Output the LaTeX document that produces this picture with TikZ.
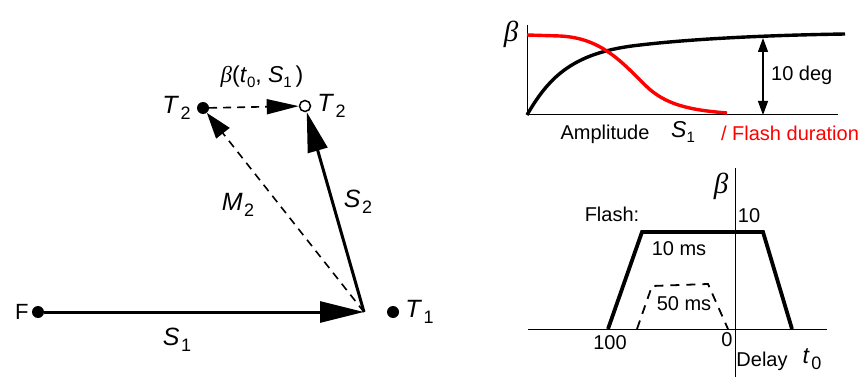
\documentclass[tikz,border=0pt]{standalone}
\usepackage{fontspec}
\setmainfont{Liberation Sans}
\newfontfamily\betafont{Liberation Serif}
\usetikzlibrary{arrows.meta,positioning}
\newcommand{\betasym}{{\betafont\itshape β}}
\newcommand{\vsub}[2]{\textit{#1}\kern1.5pt\raisebox{-0.45ex}{\fontsize{18}{20}\selectfont #2}}
\newcommand{\tsub}[2]{\textit{#1}\raisebox{-0.4ex}{\fontsize{15}{17}\selectfont #2}}

\begin{document}
\begin{tikzpicture}[x=1pt,y=-1pt,
    every node/.style={font=\fontsize{20}{23}\selectfont, inner sep=1pt},
    varname/.style={font=\fontsize{25}{28}\selectfont},
    dot/.style={circle, fill, inner sep=0pt, minimum size=12pt},
    hollow/.style={circle, draw, fill=white, line width=1.5pt, inner sep=0pt, minimum size=11pt},
    vector/.style={line width=3pt},
    guess/.style={line width=1.6pt, dash pattern=on 8pt off 6pt},
    axis/.style={line width=1pt},
    curve/.style={line width=3.4pt},
    bigbeta/.style={font=\fontsize{29}{32}\selectfont}]
    \useasboundingbox (0,0) rectangle (867,377);

    % vector diagram
    \node[dot] (F) at (38,312) {};
    \node[left=2pt of F, font=\fontsize{22}{24}\selectfont] (Flabel) {F};
    \coordinate (apex) at (364,312);
    \node[dot] (T1) at (393,312) {};
    \node[right=5pt of T1, varname] (T1label) {\vsub{T}{1}};
    \node[dot] (T2) at (203,108) {};
    \node[hollow] (T2new) at (305,106) {};
    \draw[vector, -{Triangle[length=44pt,width=21pt]}] (F) -- (apex);
    \draw[vector, -{Triangle[length=40pt,width=20pt]}] (apex) -- (T2new);
    \draw[guess, -{Triangle[length=26pt,width=17pt]}] (apex) -- (T2);
    \draw[guess, -{Triangle[length=32pt,width=15pt]}] (T2) -- (T2new);
    \node[left=5pt of T2, varname] (T2label) {\vsub{T}{2}};
    \node[right=5pt of T2new, varname] (T2newlabel) {\vsub{T}{2}};
    \node[varname] (S1label) at (177,340) {\vsub{S}{1}};
    \node[varname] (S2label) at (358,202) {\vsub{S}{2}};
    \node[varname] (M2label) at (238,205) {\vsub{M}{2}};
    \node[font=\fontsize{23}{26}\selectfont] (shift) at (262,77) {\betasym(\tsub{t}{0}, \tsub{S}{1}\,)};

    % beta versus amplitude
    \coordinate (origin) at (527,115);
    \draw[axis] (527,25) -- (origin) -- (838,115);
    \node[bigbeta] (betatop) at (511,34) {\betasym};
    \draw[curve] (origin) .. controls (550,75) and (575,52) .. (640,45)
        .. controls (700,38) and (780,35) .. (845,34);
    \draw[curve, red] (527,35) -- (560,36) .. controls (600,38) and (620,60) .. (645,85)
        .. controls (665,105) and (690,110) .. (727,113);
    \coordinate (sat) at (763,38);
    \coordinate (base) at (763,115);
    \draw[line width=1.3pt, {Triangle[length=14pt,width=10pt]}-{Triangle[length=14pt,width=10pt]}] (sat) -- (base);
    \node[right=4pt] (deg) at (766,75) {10 deg};
    \node (amp) at (605,134) {Amplitude};
    \node[font=\fontsize{23}{26}\selectfont] (ampvar) at (683,132) {\tsub{S}{1}};
    \node[red] (dur) at (790,133) {/ Flash duration};

    % beta versus delay
    \draw[axis] (528,329) -- (827,329);
    \draw[axis] (735,168) -- (735,377);
    \node[bigbeta] (betabot) at (721,186) {\betasym};
    \draw[curve, line width=3.8pt, line join=miter] (608,329) -- (642,232) -- (763,232) -- (792,329);
    \draw[line width=1.8pt, dash pattern=on 9pt off 7pt] (637,329) -- (652,286) -- (708,284) -- (728,329);
    \node (flash) at (612,214) {Flash:};
    \node (peak) at (749,216) {10};
    \node (short) at (679,249) {10 ms};
    \node (long) at (684,304) {50 ms};
    \node (hundred) at (610,343) {100};
    \node (zero) at (727,340) {0};
    \node (delay) at (762,361) {Delay};
    \node[font=\fontsize{23}{26}\selectfont] (delayvar) at (812,359) {\vsub{t}{0}};
\end{tikzpicture}
\end{document}
